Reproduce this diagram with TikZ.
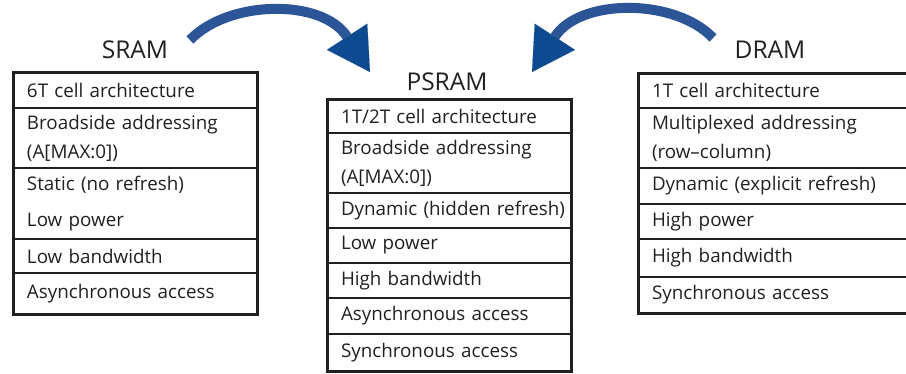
\documentclass[tikz,border=0pt]{standalone}
\usepackage{fontspec}
\setmainfont{Open Sans}
\usetikzlibrary{arrows.meta}
\definecolor{ink}{RGB}{35,31,32}
\definecolor{shaftblue}{RGB}{44,85,152}
\definecolor{headblue}{RGB}{14,74,143}
\tikzset{
  cell/.style={draw=ink, line width=1.8pt, anchor=north west, outer sep=0pt,
    inner xsep=14pt, inner ysep=0pt, align=left, text=ink,
    font=\fontsize{18.8}{29}\selectfont},
  sramcell/.style={cell, text width=216pt},
  dramcell/.style={cell, text width=244pt},
  frame/.style={draw=ink, line width=3pt},
  title/.style={text=ink, font=\fontsize{24.5}{28}\selectfont, inner sep=0pt},
  bigarrow/.style={draw=shaftblue, line width=10pt,
    -{Triangle[length=42pt, width=48pt, line width=0.1pt, color=headblue]}}
}
\begin{document}
\begin{tikzpicture}[x=1pt,y=-1pt]
\useasboundingbox (0,0) rectangle (906,373);
\clip (0,0) rectangle (906,373);
% SRAM
\node[title] (tsram) at (135,50) {SRAM};
\node[sramcell, minimum height=36pt] (s1) at (13,72) {6T cell architecture};
\node[sramcell, minimum height=60pt] (s2) at (s1.south west) {Broadside addressing\\(A[MAX:0])};
\node[sramcell, minimum height=71pt] (s3) at (s2.south west) {Static (no refresh)\\[7pt]Low power};
\node[sramcell, minimum height=34pt] (s4) at (s3.south west) {Low bandwidth};
\node[sramcell, minimum height=41pt] (s5) at (s4.south west) {Asynchronous access};
\draw[frame] (s1.north west) rectangle (s5.south east);
% PSRAM
\node[title] (tpsram) at (447,82) {PSRAM};
\node[sramcell, minimum height=34pt] (p1) at (327,99) {1T/2T cell architecture};
\node[sramcell, minimum height=60pt] (p2) at (p1.south west) {Broadside addressing\\(A[MAX:0])};
\node[sramcell, minimum height=35pt] (p3) at (p2.south west) {\mbox{Dynamic (hidden refresh)}};
\node[sramcell, minimum height=35pt] (p4) at (p3.south west) {Low power};
\node[sramcell, minimum height=35pt] (p5) at (p4.south west) {High bandwidth};
\node[sramcell, minimum height=36pt] (p6) at (p5.south west) {Asynchronous access};
\node[sramcell, minimum height=37pt] (p7) at (p6.south west) {Synchronous access};
\draw[frame] (p1.north west) rectangle (p7.south east);
% DRAM
\node[title] (tdram) at (770,50) {DRAM};
\node[dramcell, minimum height=35pt] (d1) at (638,73) {1T cell architecture};
\node[dramcell, minimum height=60pt] (d2) at (d1.south west) {Multiplexed addressing\\(row--column)};
\node[dramcell, minimum height=36pt] (d3) at (d2.south west) {Dynamic (explicit refresh)};
\node[dramcell, minimum height=35pt] (d4) at (d3.south west) {High power};
\node[dramcell, minimum height=38pt] (d5) at (d4.south west) {High bandwidth};
\node[dramcell, minimum height=36pt] (d6) at (d5.south west) {Synchronous access};
\draw[frame] (d1.north west) rectangle (d6.south east);
% arrows
\coordinate (a1s) at (190,40);
\coordinate (a1e) at (370,72);
\coordinate (a2s) at (713,38);
\coordinate (a2e) at (532,72);
\draw[bigarrow] (a1s) .. controls (228,0) and (322,-2) .. (a1e);
\draw[bigarrow] (a2s) .. controls (675,-2) and (580,-2) .. (a2e);
\end{tikzpicture}
\end{document}
